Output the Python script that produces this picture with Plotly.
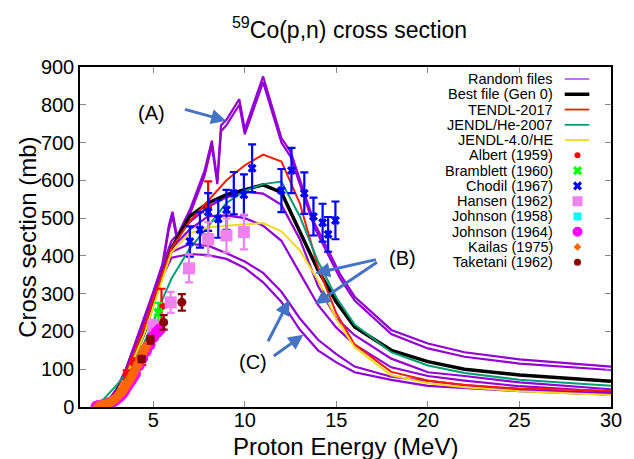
import plotly.graph_objects as go

# ---------------- data ----------------
E_GRID = [1.9, 2.5, 3, 3.5, 4, 4.5, 5, 5.5, 6, 7, 8, 9, 10, 11, 12, 13, 14, 15, 16, 18, 20, 22, 25, 30]

best_gen0 = [0, 12, 40, 85, 140, 195, 275, 350, 420, 505, 540, 562, 575, 588, 568, 465, 362, 278, 212, 150, 120, 100, 85, 68]
tendl_2017 = [0, 12, 42, 90, 148, 210, 285, 355, 420, 492, 545, 600, 640, 668, 650, 540, 370, 248, 165, 93, 70, 58, 49, 43]
jendl_he_2007 = [0, 32, 58, 88, 125, 170, 225, 285, 340, 420, 478, 540, 572, 590, 597, 505, 385, 290, 218, 145, 110, 90, 72, 56]
jendl_40_he = [0, 10, 38, 80, 135, 192, 265, 335, 410, 460, 475, 480, 483, 487, 465, 415, 335, 232, 158, 84, 63, 52, 42, 32]

random_p1 = [0, 14, 45, 95, 155, 225, 300, 375, 440, 490, 530, 555, 570, 565, 535, 445, 320, 235, 190, 128, 92, 82, 65, 47]
random_p2 = [0, 14, 45, 95, 155, 220, 290, 360, 420, 470, 505, 507, 500, 480, 440, 355, 270, 210, 165, 105, 82, 70, 55, 40]
random_p3 = [0, 13, 42, 90, 150, 215, 285, 350, 410, 432, 427, 407, 385, 355, 305, 235, 178, 140, 107, 80, 68, 58, 46, 36]
random_p4 = [0, 12, 40, 88, 145, 210, 280, 345, 395, 405, 402, 392, 368, 330, 278, 205, 150, 118, 92, 72, 56, 50, 42, 33]

E_SPIKY = [1.9, 2.5, 3, 3.5, 4, 4.5, 5, 5.5, 5.85, 6.05, 6.3, 7, 7.8, 8.2, 8.5, 8.7, 9, 9.7, 10, 11,
           12, 12.5, 13.2, 13.8, 14.5, 15.2, 16, 18, 20, 22, 25, 30]
random_a1 = [0, 13, 48, 100, 168, 235, 305, 378, 480, 517, 452, 522, 625, 705, 600, 745, 760, 815, 735, 875,
             712, 676, 575, 487, 420, 352, 292, 204, 168, 145, 126, 107]
random_a2 = [0, 12, 45, 96, 163, 228, 297, 368, 470, 505, 442, 510, 612, 692, 590, 730, 746, 800, 722, 860,
             700, 663, 563, 476, 408, 341, 282, 193, 155, 133, 115, 98]

albert_E = [3.55, 3.95, 4.4, 5.45, 8.0]
albert_v = [85, 115, 125, 267, 527]
albert_err = [12, 14, 14, 46, 70]

bramblett_E = [5.28]
bramblett_v = [250]
bramblett_err = [26]

chodil_E = [7.0, 7.55, 8.0, 8.55, 9.0, 9.4, 9.95, 10.4, 12.0, 12.55, 13.25, 13.75, 14.25, 14.55, 14.95]
chodil_v = [438, 469, 516, 498, 522, 566, 562, 632, 573, 626, 566, 504, 488, 457, 494]
chodil_err = [40, 47, 50, 50, 53, 56, 54, 63, 57, 60, 55, 50, 50, 46, 50]

hansen_E = [5.0, 5.95, 6.95, 8.0, 9.0, 9.95]
hansen_v = [213, 277, 367, 444, 454, 463]
hansen_err = [18, 28, 37, 45, 45, 46]

johnson58_E = [1.95, 2.2, 2.5, 2.8]
johnson58_v = [1, 3, 6, 11]

johnson64_E = [1.9, 2.0, 2.1, 2.2, 2.3, 2.4, 2.5, 2.6, 2.7, 2.8, 2.9, 3.0, 3.1, 3.2, 3.3, 3.4, 3.5,
               3.6, 3.7, 3.8, 3.9, 4.0, 4.2, 4.4, 4.6, 4.8, 5.0, 5.2, 5.35]
johnson64_v = [1, 2, 3, 4, 5, 6, 8, 10, 12, 15, 18, 22, 26, 30, 35, 42, 50,
               58, 65, 72, 80, 88, 110, 130, 148, 165, 185, 198, 205]

kailas_E = [2.0, 2.1, 2.2, 2.3, 2.4, 2.5, 2.6, 2.7, 2.8, 2.9, 3.0, 3.1, 3.2, 3.3, 3.4, 3.5, 3.6, 3.7,
            3.8, 3.9, 4.0, 4.1, 4.2, 4.3, 4.4, 4.5, 4.6]
kailas_v = [2, 3, 4, 5, 7, 9, 11, 14, 17, 21, 25, 30, 35, 41, 48, 56, 64, 72,
            80, 89, 98, 107, 117, 128, 139, 150, 160]

taketani_E = [4.37, 4.85, 5.57, 6.56]
taketani_v = [127, 178, 224, 277]
taketani_err = [8, 10, 19, 22]

legend_labels = ["Random files", "Best file (Gen 0)", "TENDL-2017", "JENDL/He-2007", "JENDL-4.0/HE",
                 "Albert (1959)", "Bramblett (1960)", "Chodil (1967)", "Hansen (1962)", "Johnson (1958)",
                 "Johnson (1964)", "Kailas (1975)", "Taketani (1962)"]

x_ticks = [5, 10, 15, 20, 25, 30]
y_ticks = [0, 100, 200, 300, 400, 500, 600, 700, 800, 900]

# ---------------- styling ----------------
FONT = "Liberation Sans, Arial, sans-serif"
PURPLE = "#9400d3"
RED = "#ff1a00"
GREEN = "#009e73"
YELLOW = "#f0dc1e"
ARROW = "#4472c4"

W, H = 634, 459
L, R, T, B = 80, 619, 67, 407

fig = go.Figure()

for ys, xs in [(random_a1, E_SPIKY), (random_a2, E_SPIKY), (random_p1, E_GRID), (random_p2, E_GRID),
               (random_p3, E_GRID), (random_p4, E_GRID)]:
    fig.add_trace(go.Scatter(x=xs, y=ys, mode="lines", line=dict(color=PURPLE, width=2.2), showlegend=False))

fig.add_trace(go.Scatter(x=E_GRID, y=best_gen0, mode="lines", line=dict(color="black", width=3.5), showlegend=False))
fig.add_trace(go.Scatter(x=E_GRID, y=tendl_2017, mode="lines", line=dict(color=RED, width=2), showlegend=False))
fig.add_trace(go.Scatter(x=E_GRID, y=jendl_he_2007, mode="lines", line=dict(color=GREEN, width=2), showlegend=False))
fig.add_trace(go.Scatter(x=E_GRID, y=jendl_40_he, mode="lines", line=dict(color=YELLOW, width=2), showlegend=False))


def exp_trace(xs, ys, err, color, symbol, size):
    kw = {}
    if err is not None:
        kw["error_y"] = dict(type="data", array=err, color=color, thickness=2.2, width=4)
    return go.Scatter(x=xs, y=ys, mode="markers", marker=dict(color=color, symbol=symbol, size=size,
                      line=dict(width=0)), showlegend=False, **kw)


fig.add_trace(exp_trace(albert_E, albert_v, albert_err, "#ff0000", "circle", 8))
fig.add_trace(exp_trace(bramblett_E, bramblett_v, bramblett_err, "#00ff00", "x", 9))
fig.add_trace(exp_trace(chodil_E, chodil_v, chodil_err, "#0000ff", "x", 8))
fig.add_trace(exp_trace(hansen_E, hansen_v, hansen_err, "#ee82ee", "square", 12))
fig.add_trace(exp_trace(johnson58_E, johnson58_v, None, "#00ffff", "square", 7))
fig.add_trace(exp_trace(johnson64_E, johnson64_v, None, "#ff00ff", "circle", 12))
fig.add_trace(exp_trace(kailas_E, kailas_v, None, "#ff6600", "diamond", 9))
fig.add_trace(exp_trace(taketani_E, taketani_v, taketani_err, "#8b0000", "circle", 9))

# ---------------- manual legend (text on left, sample on right) ----------------
def px2paper(px, py):
    return (px - L) / (R - L), (B - py) / (B - T)

leg_styles = [
    ("line", "#b050e0", 1.6, None, None),
    ("line", "black", 3.5, None, None),
    ("line", RED, 1.8, None, None),
    ("line", GREEN, 1.8, None, None),
    ("line", YELLOW, 1.8, None, None),
    ("marker", "#ff0000", None, "circle", 6),
    ("marker", "#00ff00", None, "x", 8),
    ("marker", "#0000ff", None, "x", 8),
    ("marker", "#ee82ee", None, "square-dot", 10),
    ("marker", "#00ffff", None, "square", 8),
    ("marker", "#ff00ff", None, "circle-dot", 10),
    ("marker", "#ff6600", None, "diamond", 6),
    ("marker", "#8b0000", None, "circle", 7),
]

annotations = []
for i, (lab, st) in enumerate(zip(legend_labels, leg_styles)):
    py = 79 + i * 15.27
    tx, ty = px2paper(562, py)
    annotations.append(dict(x=tx, y=ty, xref="paper", yref="paper", text=lab, showarrow=False,
                            xanchor="right", yanchor="middle", font=dict(family=FONT, size=14.5, color="black")))
    kind, col, wid, sym, sz = st
    if kind == "line":
        x0, y0 = px2paper(572, py)
        x1, _ = px2paper(597, py)
        fig.add_trace(go.Scatter(x=[x0, x1], y=[y0, y0], mode="lines", line=dict(color=col, width=wid),
                                 xaxis="x2", yaxis="y2", showlegend=False))
    else:
        mx, my = px2paper(585, py)
        fig.add_trace(go.Scatter(x=[mx], y=[my], mode="markers",
                                 marker=dict(color=col, symbol=sym, size=sz, line=dict(width=0)),
                                 xaxis="x2", yaxis="y2", showlegend=False))

# ---------------- labels & arrows ----------------
for txt, x, y in [("(A)", 4.93, 779), ("(B)", 18.6, 394), ("(C)", 10.43, 119)]:
    annotations.append(dict(x=x, y=y, xref="x", yref="y", text=txt, showarrow=False,
                            font=dict(family=FONT, size=20, color="black")))

arrows = [((8.98, 758), (6.65, 789)),
          ((13.83, 354), (17.24, 391)),
          ((13.83, 272), (17.3, 386)),
          ((12.43, 283), (11.23, 170)),
          ((13.2, 191), (11.5, 132))]
for (hx, hy), (tx_, ty_) in arrows:
    annotations.append(dict(x=hx, y=hy, ax=tx_, ay=ty_, xref="x", yref="y", axref="x", ayref="y",
                            text="", showarrow=True, arrowhead=2, arrowsize=1.0, arrowwidth=3,
                            arrowcolor=ARROW, standoff=0))

# axis titles
annotations.append(dict(x=0.5, y=(B - 446) / (B - T), xref="paper", yref="paper", text="Proton Energy (MeV)",
                        showarrow=False, xanchor="center", yanchor="middle",
                        font=dict(family=FONT, size=24, color="black")))
annotations.append(dict(x=(26 - L) / (R - L), y=(B - 237) / (B - T), xref="paper", yref="paper",
                        text="Cross section (mb)", textangle=-90, showarrow=False,
                        xanchor="center", yanchor="middle", font=dict(family=FONT, size=24, color="black")))

axis_common = dict(showline=True, linecolor="black", linewidth=1.5, mirror="ticks", ticks="inside",
                   ticklen=6, tickcolor="#888888", tickwidth=1, showgrid=False, zeroline=False,
                   tickfont=dict(family=FONT, size=20, color="black"))

fig.update_layout(
    width=W, height=H,
    margin=dict(l=L, r=W - R, t=T, b=H - B, pad=0),
    paper_bgcolor="white", plot_bgcolor="white",
    title=dict(text="<sup>59</sup>Co(p,n) cross section", x=(L + R) / 2 / W, xanchor="center",
               y=1 - 30 / H, yanchor="middle", yref="container",
               font=dict(family=FONT, size=23, color="black")),
    xaxis=dict(range=[1, 30], tickvals=x_ticks, ticklabelstandoff=-6, **axis_common),
    yaxis=dict(range=[0, 900], tickvals=y_ticks, **axis_common),
    xaxis2=dict(range=[0, 1], overlaying="x", visible=False),
    yaxis2=dict(range=[0, 1], overlaying="y", visible=False),
    annotations=annotations,
    showlegend=False,
)

fig.write_html("out.html")
